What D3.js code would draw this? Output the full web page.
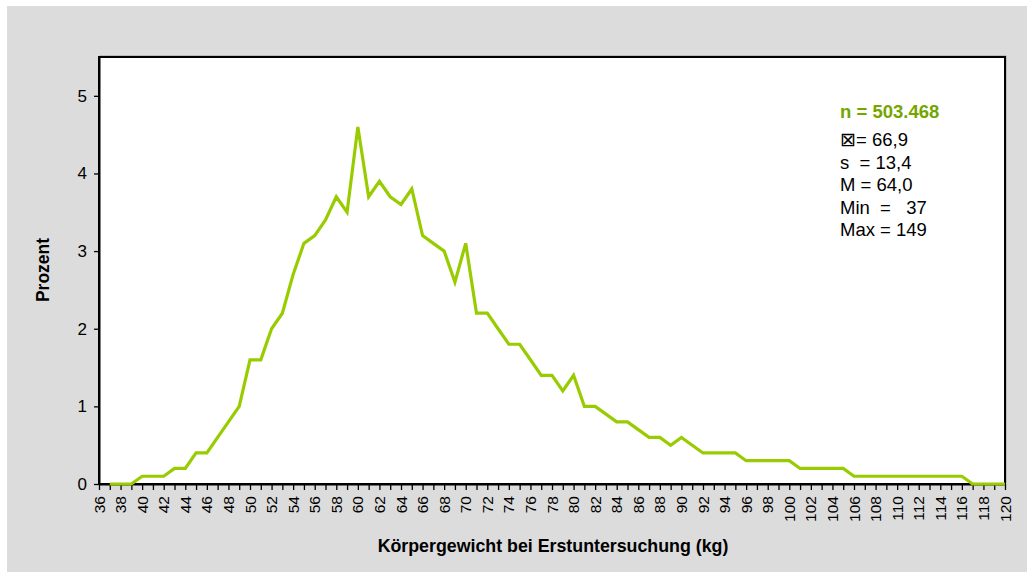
<!DOCTYPE html>
<html>
<head>
<meta charset="utf-8">
<script src="https://cdn.jsdelivr.net/npm/d3@7"></script>
<style>
  body { margin: 0; background: #fff; }
  text { font-family: "Liberation Sans", Arial, sans-serif; }
</style>
</head>
<body>
<div id="viz"></div>
<script>
// data: Körpergewicht (kg) -> Prozent
const weights = [37, 38, 39, 40, 41, 42, 43, 44, 45, 46, 47, 48, 49, 50, 51, 52, 53, 54, 55, 56,
    57, 58, 59, 60, 61, 62, 63, 64, 65, 66, 67, 68, 69, 70, 71, 72, 73, 74, 75, 76,
    77, 78, 79, 80, 81, 82, 83, 84, 85, 86, 87, 88, 89, 90, 91, 92, 93, 94, 95, 96,
    97, 98, 99, 100, 101, 102, 103, 104, 105, 106, 107, 108, 109, 110, 111, 112, 113, 114, 115, 116,
    117, 118, 119, 120];
const percent = [0, 0, 0, 0.1, 0.1, 0.1, 0.2, 0.2, 0.4, 0.4, 0.6, 0.8, 1.0, 1.6, 1.6, 2.0, 2.2, 2.7, 3.1, 3.2,
    3.4, 3.7, 3.5, 4.6, 3.7, 3.9, 3.7, 3.6, 3.8, 3.2, 3.1, 3.0, 2.6, 3.1, 2.2, 2.2, 2.0, 1.8, 1.8, 1.6,
    1.4, 1.4, 1.2, 1.4, 1.0, 1.0, 0.9, 0.8, 0.8, 0.7, 0.6, 0.6, 0.5, 0.6, 0.5, 0.4, 0.4, 0.4, 0.4, 0.3,
    0.3, 0.3, 0.3, 0.3, 0.2, 0.2, 0.2, 0.2, 0.2, 0.1, 0.1, 0.1, 0.1, 0.1, 0.1, 0.1, 0.1, 0.1, 0.1, 0.1,
    0, 0, 0, 0];

const xTicks = [36, 38, 40, 42, 44, 46, 48, 50, 52, 54, 56, 58, 60, 62, 64, 66, 68, 70, 72, 74, 76, 78,
    80, 82, 84, 86, 88, 90, 92, 94, 96, 98, 100, 102, 104, 106, 108, 110, 112, 114, 116, 118, 120];
const yTicks = [0, 1, 2, 3, 4, 5];

const statsTitle = "n = 503.468";
const statsLines = ["\u22A0= 66,9", "s  = 13,4", "M = 64,0", "Min  =   37", "Max = 149"];

const outerWidth = 1033,
    outerHeight = 572,
    plot = {left: 99, top: 57, right: 1005, bottom: 484};

window.onload = function main () {

const svg = d3.select("#viz").append("svg")
    .attr("width", outerWidth)
    .attr("height", outerHeight);

// grey chart background
svg.append("rect")
    .attr("x", 7).attr("y", 6)
    .attr("width", 1020).attr("height", 566)
    .attr("fill", "#dcdcdc");

// plot area (with a faint shadow edge)
svg.append("rect")
    .attr("x", plot.left + 1).attr("y", plot.top - 1)
    .attr("width", plot.right - plot.left).attr("height", plot.bottom - plot.top)
    .attr("fill", "none").attr("stroke", "#999").attr("stroke-width", 1);
svg.append("rect")
    .attr("x", plot.left).attr("y", plot.top)
    .attr("width", plot.right - plot.left).attr("height", plot.bottom - plot.top)
    .attr("fill", "#fff").attr("stroke", "#000").attr("stroke-width", 2);

const scX = d3.scaleLinear().domain([36, 120]).range([plot.left, plot.right]),
    scY = d3.scaleLinear().domain([0, 5.5]).range([plot.bottom, plot.top]);

// x axis: a tick on every kg, a label on every second one
const xAxis = svg.append("g")
    .attr("transform", "translate(0," + plot.bottom + ")")
    .call(d3.axisBottom(scX).tickValues(d3.range(36, 121)).tickSize(6).tickSizeOuter(0).tickFormat(""));
xAxis.select(".domain").attr("stroke", "#000").attr("stroke-width", 2);
xAxis.selectAll(".tick line").attr("stroke", "#000").attr("stroke-width", 1.3);

svg.append("g").selectAll("text")
    .data(xTicks).enter()
    .append("text")
    .attr("transform", d => "translate(" + (scX(d) + 5.5) + "," + (plot.bottom + 12) + ") rotate(-90)")
    .attr("text-anchor", "end")
    .attr("font-size", 15.5)
    .attr("fill", "#000")
    .text(d => d);

// y axis
const yAxis = svg.append("g")
    .attr("transform", "translate(" + plot.left + ",0)")
    .call(d3.axisLeft(scY).tickValues(yTicks).tickFormat(d3.format("d"))
        .tickSize(5).tickSizeOuter(0).tickPadding(7));
yAxis.select(".domain").attr("stroke", "#000").attr("stroke-width", 2);
yAxis.selectAll(".tick line").attr("stroke", "#000").attr("stroke-width", 1.3);
yAxis.selectAll(".tick text")
    .attr("font-size", 17)
    .attr("font-family", "'Liberation Sans', Arial, sans-serif")
    .attr("fill", "#000");

// the line
const line = d3.line()
    .x((d, i) => scX(weights[i]))
    .y(d => scY(d));

svg.append("path")
    .datum(percent)
    .attr("d", line)
    .attr("fill", "none")
    .attr("stroke", "#99cc00")
    .attr("stroke-width", 3.2)
    .attr("stroke-linejoin", "miter");

// axis titles
svg.append("text")
    .attr("transform", "translate(49,270) rotate(-90)")
    .attr("text-anchor", "middle")
    .attr("font-size", 17.5)
    .attr("font-weight", "bold")
    .text("Prozent");

svg.append("text")
    .attr("x", 553).attr("y", 552)
    .attr("text-anchor", "middle")
    .attr("font-size", 17.8)
    .attr("font-weight", "bold")
    .text("Körpergewicht bei Erstuntersuchung (kg)");

// statistics block
svg.append("text")
    .attr("x", 840).attr("y", 118)
    .attr("font-size", 18.5)
    .attr("font-weight", "bold")
    .attr("fill", "#74a600")
    .text(statsTitle);

svg.append("g").selectAll("text")
    .data(statsLines).enter()
    .append("text")
    .attr("x", 840)
    .attr("y", (d, i) => 146 + i * 22.5)
    .attr("font-size", 18.5)
    .attr("fill", "#000")
    .style("white-space", "pre")
    .text(d => d);

};
</script>
</body>
</html>
